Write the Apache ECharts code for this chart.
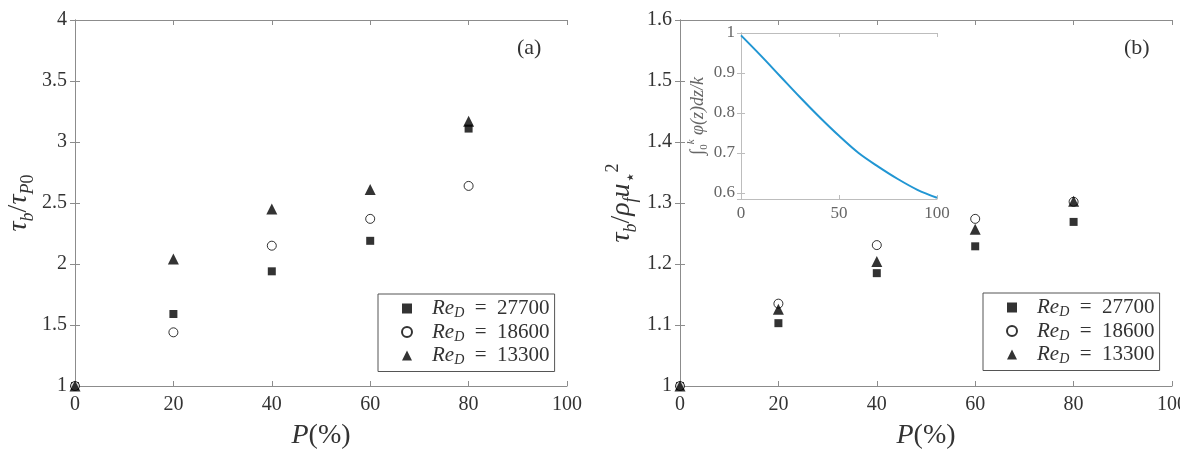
<!DOCTYPE html>
<html>
<head>
<meta charset="utf-8">
<script src="https://cdn.jsdelivr.net/npm/echarts@6/dist/echarts.min.js"></script>
<style>
  html, body { margin: 0; padding: 0; background: #fff; }
  #chart { width: 1180px; height: 450px; }
</style>
</head>
<body>
<div id="chart"></div>
<script>
// porosity P (%)
var porosity = [0, 20, 40, 60, 80];
var reLabels = ['27700', '18600', '13300'];

// panel (a): tau_b / tau_P0
var ratioA27700 = [1, 1.59, 1.94, 2.19, 3.11];
var ratioA18600 = [1, 1.44, 2.15, 2.37, 2.64];
var ratioA13300 = [1, 2.04, 2.45, 2.61, 3.17];

// panel (b): tau_b / rho_f u*^2
var ratioB27700 = [1, 1.103, 1.185, 1.229, 1.269];
var ratioB18600 = [1, 1.135, 1.231, 1.274, 1.302];
var ratioB13300 = [1, 1.126, 1.204, 1.257, 1.303];

// inset curve
var insetP = [0, 10, 20, 30, 40, 50, 60, 70, 80, 90, 100];
var insetVal = [0.994, 0.944, 0.892, 0.840, 0.790, 0.743, 0.700, 0.666, 0.635, 0.608, 0.588];

var serif = 'Liberation Serif, DejaVu Serif, serif';
var lineCol = '#8c8c8c';
var txtCol = '#333';

function pairs(xs, ys) {
    var out = [];
    for (var i = 0; i < xs.length; i++) out.push([xs[i], ys[i]]);
    return out;
}

var nameRich = {
    i: { fontFamily: serif, fontStyle: 'italic', fontSize: 28, lineHeight: 36, color: txtCol },
    t: { fontFamily: serif, fontSize: 28, lineHeight: 36, color: txtCol },
    s: { fontFamily: serif, fontStyle: 'italic', fontSize: 18, lineHeight: 16, verticalAlign: 'bottom', color: txtCol },
    u: { fontFamily: serif, fontSize: 18, lineHeight: 16, verticalAlign: 'bottom', color: txtCol },
    p: { fontFamily: serif, fontSize: 18, lineHeight: 16, verticalAlign: 'top', color: txtCol }
};

var insetRich = {
    t: { fontFamily: serif, fontSize: 19, lineHeight: 24, color: '#666' },
    i: { fontFamily: serif, fontStyle: 'italic', fontSize: 18, lineHeight: 24, color: '#666' },
    s: { fontFamily: serif, fontSize: 11, lineHeight: 10, verticalAlign: 'bottom', color: '#666' },
    p: { fontFamily: serif, fontStyle: 'italic', fontSize: 11, lineHeight: 10, verticalAlign: 'top', color: '#666' }
};

var legendRich = {
    i: { fontFamily: serif, fontStyle: 'italic', fontSize: 21, lineHeight: 24, color: txtCol, padding: [0, 0, 0, 15] },
    s: { fontFamily: serif, fontStyle: 'italic', fontSize: 14, lineHeight: 12, verticalAlign: 'bottom', color: txtCol },
    t: { fontFamily: serif, fontSize: 21, lineHeight: 24, color: txtCol }
};

function mainX(grid, labels) {
    return {
        gridIndex: grid, type: 'value', min: 0, max: 100, interval: 20,
        position: labels ? 'bottom' : 'top',
        axisLine: { show: true, lineStyle: { color: lineCol, width: 1 } },
        axisTick: { show: true, inside: true, length: 5, lineStyle: { color: lineCol } },
        axisLabel: { show: labels, margin: 9, fontFamily: serif, fontSize: 20, color: txtCol },
        splitLine: { show: false },
        name: labels ? '{i|P}{t|(%)}' : '',
        nameLocation: 'middle', nameGap: 32,
        nameTextStyle: { rich: nameRich }
    };
}

function mainY(grid, labels, min, max, interval, name, gap) {
    return {
        gridIndex: grid, type: 'value', min: min, max: max, interval: interval,
        position: labels ? 'left' : 'right',
        axisLine: { show: true, lineStyle: { color: lineCol, width: 1 } },
        axisTick: { show: true, inside: true, length: 5, lineStyle: { color: lineCol } },
        axisLabel: { show: labels, margin: 8, fontFamily: serif, fontSize: 20, color: txtCol },
        splitLine: { show: false },
        name: labels ? name : '',
        nameLocation: 'middle', nameGap: gap, nameRotate: 90,
        nameTextStyle: { rich: nameRich }
    };
}

var insetLine = { color: '#bdbdbd', width: 1 };

function legendAt(left, top) {
    return {
        left: left, top: top, orient: 'vertical', data: reLabels,
        itemWidth: 10, itemHeight: 10, itemGap: 1,
        padding: [4, 5, 4, 23],
        borderColor: '#555', borderWidth: 1, backgroundColor: '#fff',
        formatter: function (n) { return '{i|Re}{s|D}{t|  =  ' + n + '}'; },
        textStyle: { rich: legendRich }
    };
}

var chartDom = document.getElementById('chart');
var myChart = echarts.init(chartDom);
var option;

option = {
    backgroundColor: '#fff',
    animation: false,
    grid: [
        { left: 75, top: 20, width: 492, height: 366, outerBoundsMode: 'none', containLabel: false },
        { left: 680, top: 20, width: 492, height: 366, outerBoundsMode: 'none', containLabel: false },
        { left: 741, top: 33, width: 196, height: 166, outerBoundsMode: 'none', containLabel: false,
          show: true, backgroundColor: '#fff', borderWidth: 0, z: 5 }
    ],
    xAxis: [
        mainX(0, true),
        mainX(0, false),
        mainX(1, true),
        mainX(1, false),
        {
            gridIndex: 2, type: 'value', min: 0, max: 100, interval: 50, position: 'bottom',
            axisLine: { show: true, lineStyle: insetLine },
            axisTick: { show: true, inside: true, length: 4, lineStyle: insetLine },
            axisLabel: { margin: 6, fontFamily: serif, fontSize: 17, color: '#666' },
            splitLine: { show: false }, z: 6
        },
        {
            gridIndex: 2, type: 'value', min: 0, max: 100, interval: 50, position: 'top',
            axisLine: { show: true, lineStyle: insetLine },
            axisTick: { show: true, inside: true, length: 4, lineStyle: insetLine },
            axisLabel: { show: false }, splitLine: { show: false }, z: 6
        }
    ],
    yAxis: [
        mainY(0, true, 1, 4, 0.5, '{i|τ}{s|b}{t|/}{i|τ}{s|P}{u|0}', 38),
        mainY(0, false, 1, 4, 0.5, '', 0),
        mainY(1, true, 1, 1.6, 0.1, '{i|τ}{s|b}{t|/}{i|ρ}{s|f}{i|u}{u|⋆}{p|2}', 40),
        mainY(1, false, 1, 1.6, 0.1, '', 0),
        {
            gridIndex: 2, type: 'value', min: 0.585, max: 1, position: 'left',
            axisLine: { show: true, lineStyle: insetLine },
            axisTick: { show: true, inside: true, length: 4, lineStyle: insetLine },
            axisLabel: { showMinLabel: false, margin: 6, fontFamily: serif, fontSize: 17, color: '#666' },
            splitLine: { show: false },
            name: '{t|∫}{s|0}{p|k}{i| φ(z)dz/k}',
            nameLocation: 'middle', nameGap: 26, nameRotate: 90,
            nameTextStyle: { rich: insetRich }, z: 6
        },
        {
            gridIndex: 2, type: 'value', min: 0.585, max: 1, position: 'right',
            axisLine: { show: true, lineStyle: insetLine },
            axisTick: { show: true, inside: true, length: 4, lineStyle: insetLine },
            axisLabel: { show: false }, splitLine: { show: false }, z: 6
        }
    ],
    legend: [legendAt(378, 294), legendAt(983, 293)],
    graphic: [
        { type: 'text', left: 517, top: 37, style: { text: '(a)', font: '22px ' + serif, fill: txtCol } },
        { type: 'text', left: 1124, top: 37, style: { text: '(b)', font: '22px ' + serif, fill: txtCol } }
    ],
    series: [
        { name: reLabels[0], type: 'scatter', xAxisIndex: 0, yAxisIndex: 0, symbol: 'rect', symbolSize: 8,
          itemStyle: { color: '#000' }, data: pairs(porosity, ratioA27700) },
        { name: reLabels[1], type: 'scatter', xAxisIndex: 0, yAxisIndex: 0, symbol: 'circle', symbolSize: 9,
          itemStyle: { color: '#fff', borderColor: '#000', borderWidth: 1 }, data: pairs(porosity, ratioA18600) },
        { name: reLabels[2], type: 'scatter', xAxisIndex: 0, yAxisIndex: 0, symbol: 'triangle', symbolSize: 11,
          itemStyle: { color: '#000' }, data: pairs(porosity, ratioA13300) },
        { name: reLabels[0], type: 'scatter', xAxisIndex: 2, yAxisIndex: 2, symbol: 'rect', symbolSize: 8,
          itemStyle: { color: '#000' }, data: pairs(porosity, ratioB27700) },
        { name: reLabels[1], type: 'scatter', xAxisIndex: 2, yAxisIndex: 2, symbol: 'circle', symbolSize: 9,
          itemStyle: { color: '#fff', borderColor: '#000', borderWidth: 1 }, data: pairs(porosity, ratioB18600) },
        { name: reLabels[2], type: 'scatter', xAxisIndex: 2, yAxisIndex: 2, symbol: 'triangle', symbolSize: 11,
          itemStyle: { color: '#000' }, data: pairs(porosity, ratioB13300) },
        { name: 'inset', type: 'line', xAxisIndex: 4, yAxisIndex: 4, smooth: 0.35, showSymbol: false,
          lineStyle: { color: '#2196d3', width: 2 }, z: 7, data: pairs(insetP, insetVal) }
    ]
};

option && myChart.setOption(option);
</script>
</body>
</html>
